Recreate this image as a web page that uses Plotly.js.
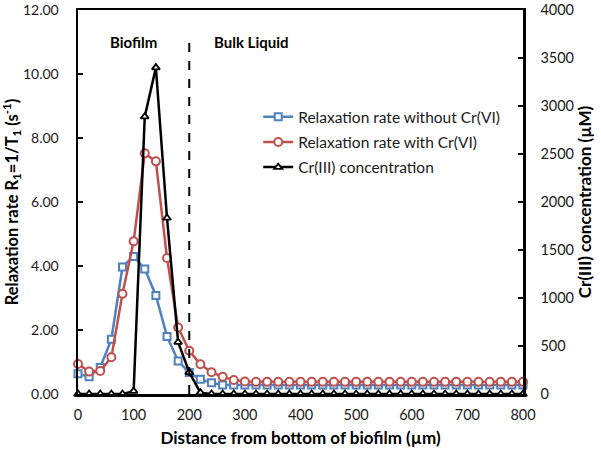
<!DOCTYPE html>
<html>
<head>
<meta charset="utf-8">
<script src="https://cdn.plot.ly/plotly-3.0.1.min.js"></script>
<style>html,body{margin:0;padding:0;background:#fff}#chart{width:601px;height:454px}</style>
</head>
<body>
<div id="chart"></div>
<script>
var distance = [0,20,40,60,80,100,120,140,160,180,200,220,240,260,280,300,320,340,360,380,400,420,440,460,480,500,520,540,560,580,600,620,640,660,680,700,720,740,760,780,800];
var rateWithout = [0.63,0.54,0.83,1.71,3.97,4.30,3.91,3.08,1.80,1.03,0.67,0.46,0.35,0.28,0.28,0.28,0.28,0.28,0.28,0.28,0.28,0.28,0.28,0.28,0.28,0.28,0.28,0.28,0.28,0.28,0.28,0.28,0.28,0.28,0.28,0.28,0.28,0.28,0.28,0.28,0.28];
var rateWith = [0.94,0.70,0.72,1.15,3.13,4.77,7.52,7.27,4.25,2.08,1.35,0.93,0.68,0.54,0.44,0.39,0.38,0.38,0.38,0.38,0.38,0.38,0.38,0.38,0.38,0.38,0.38,0.38,0.38,0.38,0.38,0.38,0.38,0.38,0.38,0.38,0.38,0.38,0.38,0.38,0.38];
var cr3 = [0,0,0,0,0,30,2889,3400,1834,540,226,14,0,0,0,0,0,0,0,0,0,0,0,0,0,0,0,0,0,0,0,0,0,0,0,0,0,0,0,0,0];
var seriesNames = ["Relaxation rate without Cr(VI)", "Relaxation rate with Cr(VI)", "Cr(III) concentration"];
var regionLabels = ["Biofilm", "Bulk Liquid"];
var regionLabelX = [100, 312];
var boundaryX = 200;

var FONT = "Lato, 'Open Sans', sans-serif";
var TXT = "#1a1a1a";
var traces = [
  {x: distance, y: rateWithout, name: seriesNames[0], type: "scatter", mode: "lines+markers", legendgroup: "a", cliponaxis: false,
   line: {color: "#4F81BD", width: 2.5}, marker: {symbol: "square", size: 7, color: "#ffffff", line: {color: "#4F81BD", width: 2}}},
  {x: distance, y: rateWith, name: seriesNames[1], type: "scatter", mode: "lines+markers", legendgroup: "b", cliponaxis: false,
   line: {color: "#C0504D", width: 2.5}, marker: {symbol: "circle", size: 8, color: "#ffffff", line: {color: "#C0504D", width: 2}}},
  {x: distance, y: cr3, name: seriesNames[2], type: "scatter", mode: "lines+markers", yaxis: "y2", legendgroup: "c", cliponaxis: false,
   line: {color: "#000000", width: 2.5}, marker: {symbol: "triangle-up", size: 7, color: "#ffffff", line: {color: "#000000", width: 1.8}}}
];

var layout = {
  width: 601, height: 454,
  margin: {l: 78, r: 78, t: 10, b: 60},
  paper_bgcolor: "#ffffff", plot_bgcolor: "#ffffff",
  font: {family: FONT, size: 14, color: TXT},
  showlegend: true,
  legend: {x: 0.405, y: 0.765, xanchor: "left", yanchor: "top", bgcolor: "rgba(0,0,0,0)", itemwidth: 30,
           font: {family: FONT, size: 15.5, color: TXT}, tracegroupgap: 2},
  xaxis: {range: [0, 800], tickvals: [0,100,200,300,400,500,600,700,800], showgrid: false, zeroline: false,
          showline: true, linecolor: "#000", linewidth: 2.5, mirror: true, ticks: "", ticklabelstandoff: 6,
          tickfont: {family: FONT, size: 14.5, color: TXT},
          title: {text: "<b>Distance from bottom of biofilm (µm)</b>", font: {family: FONT, size: 17, color: "#000"}, standoff: 10}},
  yaxis: {range: [0, 12], dtick: 2, tickformat: ".2f", showgrid: false, zeroline: false,
          showline: true, linecolor: "#000", linewidth: 2.5, ticks: "inside", ticklen: 5, tickwidth: 2, tickcolor: "#000",
          ticklabelstandoff: 14,
          tickfont: {family: FONT, size: 14, color: TXT},
          title: {text: "<b>Relaxation rate R<sub>1</sub>=1/T<sub>1</sub> (s<sup>-1</sup>)</b>", font: {family: FONT, size: 16.5, color: "#000"}, standoff: 6}},
  yaxis2: {range: [0, 4000], dtick: 500, overlaying: "y", side: "right", showgrid: false, zeroline: false,
          showline: true, linecolor: "#000", linewidth: 2.5, ticks: "inside", ticklen: 5, tickwidth: 2, tickcolor: "#000",
          ticklabelstandoff: 12,
          tickfont: {family: FONT, size: 14.5, color: TXT},
          title: {text: "<b>Cr(III) concentration (µM)</b>", font: {family: FONT, size: 17, color: "#000"}, standoff: 6}},
  shapes: [{type: "line", xref: "x", yref: "y", x0: boundaryX, x1: boundaryX, y0: 0, y1: 11.2,
            line: {color: "#000", width: 2, dash: "dash"}}],
  annotations: [
    {x: regionLabelX[0], y: 11.0, xref: "x", yref: "y", text: "<b>" + regionLabels[0] + "</b>", showarrow: false,
     font: {family: FONT, size: 15, color: "#000"}},
    {x: regionLabelX[1], y: 11.0, xref: "x", yref: "y", text: "<b>" + regionLabels[1] + "</b>", showarrow: false,
     font: {family: FONT, size: 15, color: "#000"}}
  ]
};
Plotly.newPlot("chart", traces, layout, {displayModeBar: false, staticPlot: true});
</script>
</body>
</html>
